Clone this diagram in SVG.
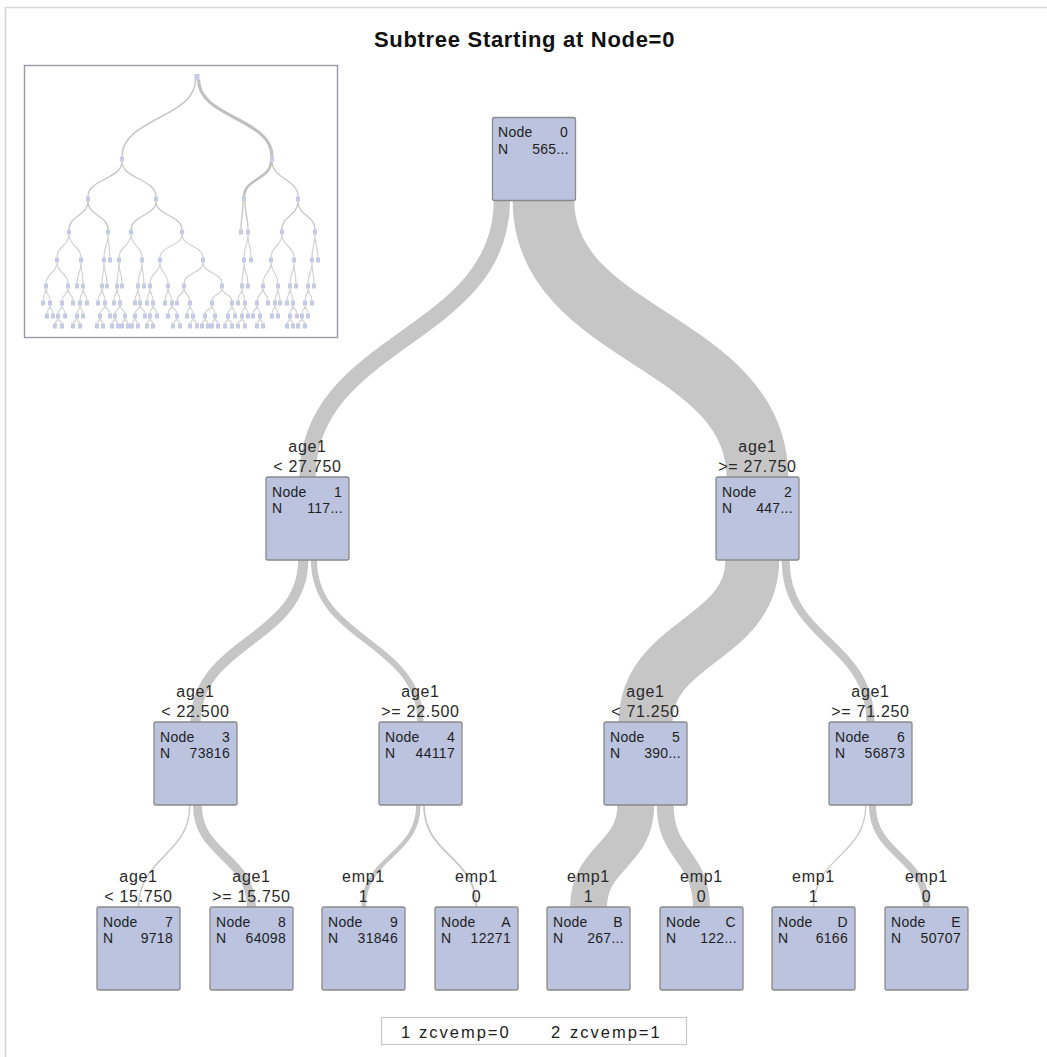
<svg xmlns="http://www.w3.org/2000/svg" width="1047" height="1057" viewBox="0 0 1047 1057">
<style>
.frame{stroke:#d6d6d6;stroke-width:1.6;fill:none}
.band{fill:none;stroke:#c6c6c6;stroke-linecap:butt}
.node rect{fill:#bbc3df;stroke:#8a8a8a;stroke-width:1.3}
.nt{font-family:"Liberation Sans",Arial,sans-serif;font-size:14px;fill:#1e1e1e;letter-spacing:0.3px}
.e{text-anchor:end}
.lb{font-family:"Liberation Sans",Arial,sans-serif;font-size:16px;fill:#2a2a2a;text-anchor:middle;letter-spacing:0.7px}
.title{font-family:"Liberation Sans",Arial,sans-serif;font-size:22px;font-weight:bold;fill:#111;text-anchor:middle;letter-spacing:0.7px}
.lg{font-family:"Liberation Sans",Arial,sans-serif;font-size:16.5px;fill:#222;letter-spacing:2px}
.mini-e{fill:none;stroke:#d2d2d2;stroke-width:1.2}
.mini-n{fill:#c5cae6}
</style>
<rect width="1047" height="1057" fill="#fff"/>
<path class="frame" d="M5.5,1057V7.5H1047"/>
<text class="title" x="524.5" y="47">Subtree Starting at Node=0</text>

<g id="overview">
<rect x="24.5" y="65.5" width="313" height="272" fill="#fff" stroke="#9a9aa6" stroke-width="1.4"/>
<path class="mini-e" style="stroke:#c8c8c8;stroke-width:1.6" d="M195.5,79.5C195.5,118 122,118 122,156.5"/>
<path class="mini-e" style="stroke:#c0c0c0;stroke-width:3.2" d="M198.5,79.5C198.5,118 272,118 272,156.5"/>
<path class="mini-e" style="stroke:#c8c8c8;stroke-width:1.4" d="M122,161.5C122,179 88,179 88,196.5M122,161.5C122,179 156,179 156,196.5M298,201.5C298,215.5 282,215.5 282,229.5M298,201.5C298,215.5 315,215.5 315,229.5M272,161.5C272,179 298,179 298,196.5"/>
<path class="mini-e" style="stroke:#c0c0c0;stroke-width:2.6" d="M271,161.5C271,179 244,179 244,196.5"/>
<path class="mini-e" style="stroke:#c8c8c8;stroke-width:1.4" d="M88,201.5C88,215.5 69,215.5 69,229.5M88,201.5C88,215.5 108,215.5 108,229.5M156,201.5C156,215.5 131,215.5 131,229.5M156,201.5C156,215.5 182,215.5 182,229.5M243,201.5C243,215.5 241,215.5 241,229.5M245,201.5C245,215.5 248,215.5 248,229.5"/>
<path class="mini-e" d="M69,234.5C69,246 57,246 57,257.5M69,234.5C69,246 81,246 81,257.5M108,234.5C108,246 104,246 104,257.5M108,234.5C108,246 110,246 110,257.5M131,234.5C131,246 119,246 119,257.5M131,234.5C131,246 142,246 142,257.5M182,234.5C182,246 160,246 160,257.5M182,234.5C182,246 203,246 203,257.5M248,234.5C248,246 244,246 244,257.5M248,234.5C248,246 251,246 251,257.5M282,234.5C282,246 271,246 271,257.5M282,234.5C282,246 294,246 294,257.5M315,234.5C315,246 312,246 312,257.5M315,234.5C315,246 318,246 318,257.5"/>
<path class="mini-e" d="M57,262.5C57,273 46,273 46,283.5M57,262.5C57,273 68,273 68,283.5M81,262.5C81,273 77,273 77,283.5M81,262.5C81,273 83,273 83,283.5M104,262.5C104,273 102,273 102,283.5M104,262.5C104,273 107,273 107,283.5M119,262.5C119,273 117,273 117,283.5M119,262.5C119,273 122,273 122,283.5M142,262.5C142,273 138,273 138,283.5M142,262.5C142,273 144,273 144,283.5M160,262.5C160,273 150,273 150,283.5M160,262.5C160,273 168,273 168,283.5M203,262.5C203,273 184,273 184,283.5M203,262.5C203,273 222,273 222,283.5M244,262.5C244,273 242,273 242,283.5M244,262.5C244,273 248,273 248,283.5M271,262.5C271,273 263,273 263,283.5M271,262.5C271,273 278,273 278,283.5M294,262.5C294,273 290,273 290,283.5M294,262.5C294,273 296,273 296,283.5M312,262.5C312,273 308,273 308,283.5M312,262.5C312,273 314,273 314,283.5"/>
<path class="mini-e" d="M46,288.5C46,294.5 43,294.5 43,300.5M46,288.5C46,294.5 50,294.5 50,300.5M68,288.5C68,294.5 62,294.5 62,300.5M68,288.5C68,294.5 73,294.5 73,300.5M83,288.5C83,294.5 80,294.5 80,300.5M83,288.5C83,294.5 87,294.5 87,300.5M102,288.5C102,294.5 98,294.5 98,300.5M102,288.5C102,294.5 105,294.5 105,300.5M117,288.5C117,294.5 114,294.5 114,300.5M117,288.5C117,294.5 120,294.5 120,300.5M138,288.5C138,294.5 135,294.5 135,300.5M138,288.5C138,294.5 140,294.5 140,300.5M150,288.5C150,294.5 147,294.5 147,300.5M150,288.5C150,294.5 153,294.5 153,300.5M168,288.5C168,294.5 165,294.5 165,300.5M168,288.5C168,294.5 172,294.5 172,300.5M184,288.5C184,294.5 177,294.5 177,300.5M184,288.5C184,294.5 190,294.5 190,300.5M222,288.5C222,294.5 212,294.5 212,300.5M222,288.5C222,294.5 232,294.5 232,300.5M242,288.5C242,294.5 238,294.5 238,300.5M242,288.5C242,294.5 245,294.5 245,300.5M263,288.5C263,294.5 257,294.5 257,300.5M263,288.5C263,294.5 268,294.5 268,300.5M278,288.5C278,294.5 275,294.5 275,300.5M278,288.5C278,294.5 280,294.5 280,300.5M290,288.5C290,294.5 287,294.5 287,300.5M290,288.5C290,294.5 293,294.5 293,300.5M308,288.5C308,294.5 305,294.5 305,300.5M308,288.5C308,294.5 312,294.5 312,300.5"/>
<path class="mini-e" d="M50,305.5C50,309.5 47,309.5 47,313.5M50,305.5C50,309.5 53,309.5 53,313.5M62,305.5C62,309.5 58,309.5 58,313.5M62,305.5C62,309.5 65,309.5 65,313.5M80,305.5C80,309.5 77,309.5 77,313.5M80,305.5C80,309.5 83,309.5 83,313.5M105,305.5C105,309.5 100,309.5 100,313.5M105,305.5C105,309.5 110,309.5 110,313.5M120,305.5C120,309.5 115,309.5 115,313.5M120,305.5C120,309.5 125,309.5 125,313.5M140,305.5C140,309.5 135,309.5 135,313.5M140,305.5C140,309.5 145,309.5 145,313.5M153,305.5C153,309.5 150,309.5 150,313.5M153,305.5C153,309.5 157,309.5 157,313.5M172,305.5C172,309.5 168,309.5 168,313.5M172,305.5C172,309.5 177,309.5 177,313.5M190,305.5C190,309.5 187,309.5 187,313.5M190,305.5C190,309.5 193,309.5 193,313.5M212,305.5C212,309.5 205,309.5 205,313.5M212,305.5C212,309.5 215,309.5 215,313.5M232,305.5C232,309.5 228,309.5 228,313.5M232,305.5C232,309.5 235,309.5 235,313.5M245,305.5C245,309.5 242,309.5 242,313.5M245,305.5C245,309.5 248,309.5 248,313.5M257,305.5C257,309.5 253,309.5 253,313.5M257,305.5C257,309.5 260,309.5 260,313.5M275,305.5C275,309.5 272,309.5 272,313.5M275,305.5C275,309.5 278,309.5 278,313.5M293,305.5C293,309.5 290,309.5 290,313.5M293,305.5C293,309.5 297,309.5 297,313.5M305,305.5C305,309.5 302,309.5 302,313.5M305,305.5C305,309.5 308,309.5 308,313.5"/>
<path class="mini-e" d="M58,318.5C58,321 55,321 55,323.5M58,318.5C58,321 62,321 62,323.5M77,318.5C77,321 73,321 73,323.5M77,318.5C77,321 80,321 80,323.5M100,318.5C100,321 97,321 97,323.5M100,318.5C100,321 103,321 103,323.5M115,318.5C115,321 112,321 112,323.5M115,318.5C115,321 118,321 118,323.5M125,318.5C125,321 122,321 122,323.5M125,318.5C125,321 128,321 128,323.5M135,318.5C135,321 132,321 132,323.5M135,318.5C135,321 138,321 138,323.5M150,318.5C150,321 147,321 147,323.5M150,318.5C150,321 153,321 153,323.5M177,318.5C177,321 173,321 173,323.5M177,318.5C177,321 180,321 180,323.5M193,318.5C193,321 190,321 190,323.5M193,318.5C193,321 197,321 197,323.5M205,318.5C205,321 202,321 202,323.5M205,318.5C205,321 208,321 208,323.5M215,318.5C215,321 212,321 212,323.5M215,318.5C215,321 218,321 218,323.5M228,318.5C228,321 225,321 225,323.5M228,318.5C228,321 232,321 232,323.5M242,318.5C242,321 238,321 238,323.5M242,318.5C242,321 245,321 245,323.5M260,318.5C260,321 257,321 257,323.5M260,318.5C260,321 263,321 263,323.5M290,318.5C290,321 287,321 287,323.5M290,318.5C290,321 293,321 293,323.5M302,318.5C302,321 298,321 298,323.5M302,318.5C302,321 305,321 305,323.5"/>
<path class="mini-n" d="M194.5,74h5v6h-5z
M120,156.5h4v5h-4zM270,156.5h4v5h-4z
M86,196.5h4v5h-4zM154,196.5h4v5h-4zM242,196.5h4v5h-4zM296,196.5h4v5h-4z
M67,229.5h4v5h-4zM106,229.5h4v5h-4zM129,229.5h4v5h-4zM180,229.5h4v5h-4zM239,229.5h4v5h-4zM246,229.5h4v5h-4zM280,229.5h4v5h-4zM313,229.5h4v5h-4z
M55,257.5h4v5h-4zM79,257.5h4v5h-4zM102,257.5h4v5h-4zM108,257.5h4v5h-4zM117,257.5h4v5h-4zM140,257.5h4v5h-4zM158,257.5h4v5h-4zM201,257.5h4v5h-4zM242,257.5h4v5h-4zM249,257.5h4v5h-4zM269,257.5h4v5h-4zM292,257.5h4v5h-4zM310,257.5h4v5h-4zM316,257.5h4v5h-4z
M44,283.5h4v5h-4zM66,283.5h4v5h-4zM75,283.5h4v5h-4zM81,283.5h4v5h-4zM100,283.5h4v5h-4zM105,283.5h4v5h-4zM115,283.5h4v5h-4zM120,283.5h4v5h-4zM136,283.5h4v5h-4zM142,283.5h4v5h-4zM148,283.5h4v5h-4zM166,283.5h4v5h-4zM182,283.5h4v5h-4zM220,283.5h4v5h-4zM240,283.5h4v5h-4zM246,283.5h4v5h-4zM261,283.5h4v5h-4zM276,283.5h4v5h-4zM288,283.5h4v5h-4zM294,283.5h4v5h-4zM306,283.5h4v5h-4zM312,283.5h4v5h-4z
M41,300.5h4v5h-4zM48,300.5h4v5h-4zM60,300.5h4v5h-4zM71,300.5h4v5h-4zM78,300.5h4v5h-4zM85,300.5h4v5h-4zM96,300.5h4v5h-4zM103,300.5h4v5h-4zM112,300.5h4v5h-4zM118,300.5h4v5h-4zM133,300.5h4v5h-4zM138,300.5h4v5h-4zM145,300.5h4v5h-4zM151,300.5h4v5h-4zM163,300.5h4v5h-4zM170,300.5h4v5h-4zM175,300.5h4v5h-4zM188,300.5h4v5h-4zM210,300.5h4v5h-4zM230,300.5h4v5h-4zM236,300.5h4v5h-4zM243,300.5h4v5h-4zM255,300.5h4v5h-4zM266,300.5h4v5h-4zM273,300.5h4v5h-4zM278,300.5h4v5h-4zM285,300.5h4v5h-4zM291,300.5h4v5h-4zM303,300.5h4v5h-4zM310,300.5h4v5h-4z
M45,313.5h4v5h-4zM51,313.5h4v5h-4zM56,313.5h4v5h-4zM63,313.5h4v5h-4zM75,313.5h4v5h-4zM81,313.5h4v5h-4zM98,313.5h4v5h-4zM108,313.5h4v5h-4zM113,313.5h4v5h-4zM123,313.5h4v5h-4zM133,313.5h4v5h-4zM143,313.5h4v5h-4zM148,313.5h4v5h-4zM155,313.5h4v5h-4zM166,313.5h4v5h-4zM175,313.5h4v5h-4zM185,313.5h4v5h-4zM191,313.5h4v5h-4zM203,313.5h4v5h-4zM213,313.5h4v5h-4zM226,313.5h4v5h-4zM233,313.5h4v5h-4zM240,313.5h4v5h-4zM246,313.5h4v5h-4zM251,313.5h4v5h-4zM258,313.5h4v5h-4zM270,313.5h4v5h-4zM276,313.5h4v5h-4zM288,313.5h4v5h-4zM295,313.5h4v5h-4zM300,313.5h4v5h-4zM306,313.5h4v5h-4z
M53,323.5h4v5h-4zM60,323.5h4v5h-4zM71,323.5h4v5h-4zM78,323.5h4v5h-4zM95,323.5h4v5h-4zM101,323.5h4v5h-4zM110,323.5h4v5h-4zM116,323.5h4v5h-4zM120,323.5h4v5h-4zM126,323.5h4v5h-4zM130,323.5h4v5h-4zM136,323.5h4v5h-4zM145,323.5h4v5h-4zM151,323.5h4v5h-4zM171,323.5h4v5h-4zM178,323.5h4v5h-4zM188,323.5h4v5h-4zM195,323.5h4v5h-4zM200,323.5h4v5h-4zM206,323.5h4v5h-4zM210,323.5h4v5h-4zM216,323.5h4v5h-4zM223,323.5h4v5h-4zM230,323.5h4v5h-4zM236,323.5h4v5h-4zM243,323.5h4v5h-4zM255,323.5h4v5h-4zM261,323.5h4v5h-4zM285,323.5h4v5h-4zM291,323.5h4v5h-4zM296,323.5h4v5h-4zM303,323.5h4v5h-4z"/>
</g>

<g id="connectors">
<path class="band" stroke-width="16.3" d="M501.9,200C501.9,338.5 307.5,338.5 307.5,478"/>
<path class="band" stroke-width="61.7" d="M543.4,200C543.4,338.5 757.5,338.5 757.5,478"/>
<path class="band" stroke-width="10.2" d="M303.2,560C303.2,641 195.5,641 195.5,723"/>
<path class="band" stroke-width="6.1" d="M313.9,560C313.9,641 420.5,641 420.5,723"/>
<path class="band" stroke-width="53.8" d="M752.3,560C752.3,641 645.5,641 645.5,723"/>
<path class="band" stroke-width="7.9" d="M785.6,560C785.6,641 870.5,641 870.5,723"/>
<path class="band" stroke-width="1.4" d="M189.8,805C189.8,856 138.5,856 138.5,908"/>
<path class="band" stroke-width="8.9" d="M197.4,805C197.4,856 251.5,856 251.5,908"/>
<path class="band" stroke-width="4.4" d="M418.4,805C418.4,856 363.5,856 363.5,908"/>
<path class="band" stroke-width="1.7" d="M423.9,805C423.9,856 476.5,856 476.5,908"/>
<path class="band" stroke-width="36.9" d="M635.8,805C635.8,856 588.5,856 588.5,908"/>
<path class="band" stroke-width="16.9" d="M665.2,805C665.2,856 701.5,856 701.5,908"/>
<path class="band" stroke-width="1.2" d="M865.8,805C865.8,856 813.5,856 813.5,908"/>
<path class="band" stroke-width="7" d="M872.4,805C872.4,856 926.5,856 926.5,908"/>
</g>

<g id="node-0" class="node"><rect x="492.5" y="117.5" width="83" height="83" rx="2"/><text class="nt" x="498" y="137">Node</text><text class="nt e" x="568" y="137">0</text><text class="nt" x="498" y="154">N</text><text class="nt e" x="569" y="154">565...</text></g>

<g id="node-1" class="node"><text class="lb" x="307.5" y="452">age1</text><text class="lb" x="307.5" y="472">&lt; 27.750</text><rect x="266" y="477" width="83" height="83" rx="2"/><text class="nt" x="272" y="497">Node</text><text class="nt e" x="342" y="497">1</text><text class="nt" x="272" y="513">N</text><text class="nt e" x="343" y="513">117...</text></g>

<g id="node-2" class="node"><text class="lb" x="757.5" y="452">age1</text><text class="lb" x="757.5" y="472">&gt;= 27.750</text><rect x="716" y="477" width="83" height="83" rx="2"/><text class="nt" x="722" y="497">Node</text><text class="nt e" x="792" y="497">2</text><text class="nt" x="722" y="513">N</text><text class="nt e" x="793" y="513">447...</text></g>

<g id="node-3" class="node"><text class="lb" x="195.5" y="697">age1</text><text class="lb" x="195.5" y="717">&lt; 22.500</text><rect x="154" y="722" width="83" height="83" rx="2"/><text class="nt" x="160" y="742">Node</text><text class="nt e" x="230" y="742">3</text><text class="nt" x="160" y="758">N</text><text class="nt e" x="230" y="758">73816</text></g>

<g id="node-4" class="node"><text class="lb" x="420.5" y="697">age1</text><text class="lb" x="420.5" y="717">&gt;= 22.500</text><rect x="379" y="722" width="83" height="83" rx="2"/><text class="nt" x="385" y="742">Node</text><text class="nt e" x="455" y="742">4</text><text class="nt" x="385" y="758">N</text><text class="nt e" x="455" y="758">44117</text></g>

<g id="node-5" class="node"><text class="lb" x="645.5" y="697">age1</text><text class="lb" x="645.5" y="717">&lt; 71.250</text><rect x="604" y="722" width="83" height="83" rx="2"/><text class="nt" x="610" y="742">Node</text><text class="nt e" x="680" y="742">5</text><text class="nt" x="610" y="758">N</text><text class="nt e" x="681" y="758">390...</text></g>

<g id="node-6" class="node"><text class="lb" x="870.5" y="697">age1</text><text class="lb" x="870.5" y="717">&gt;= 71.250</text><rect x="829" y="722" width="83" height="83" rx="2"/><text class="nt" x="835" y="742">Node</text><text class="nt e" x="905" y="742">6</text><text class="nt" x="835" y="758">N</text><text class="nt e" x="905" y="758">56873</text></g>

<g id="node-7" class="node"><text class="lb" x="138.5" y="882">age1</text><text class="lb" x="138.5" y="902">&lt; 15.750</text><rect x="97" y="907" width="83" height="83" rx="2"/><text class="nt" x="103" y="927">Node</text><text class="nt e" x="173" y="927">7</text><text class="nt" x="103" y="943">N</text><text class="nt e" x="173" y="943">9718</text></g>

<g id="node-8" class="node"><text class="lb" x="251.5" y="882">age1</text><text class="lb" x="251.5" y="902">&gt;= 15.750</text><rect x="210" y="907" width="83" height="83" rx="2"/><text class="nt" x="216" y="927">Node</text><text class="nt e" x="286" y="927">8</text><text class="nt" x="216" y="943">N</text><text class="nt e" x="286" y="943">64098</text></g>

<g id="node-9" class="node"><text class="lb" x="363.5" y="882">emp1</text><text class="lb" x="363.5" y="902">1</text><rect x="322" y="907" width="83" height="83" rx="2"/><text class="nt" x="328" y="927">Node</text><text class="nt e" x="398" y="927">9</text><text class="nt" x="328" y="943">N</text><text class="nt e" x="398" y="943">31846</text></g>

<g id="node-A" class="node"><text class="lb" x="476.5" y="882">emp1</text><text class="lb" x="476.5" y="902">0</text><rect x="435" y="907" width="83" height="83" rx="2"/><text class="nt" x="441" y="927">Node</text><text class="nt e" x="511" y="927">A</text><text class="nt" x="441" y="943">N</text><text class="nt e" x="511" y="943">12271</text></g>

<g id="node-B" class="node"><text class="lb" x="588.5" y="882">emp1</text><text class="lb" x="588.5" y="902">1</text><rect x="547" y="907" width="83" height="83" rx="2"/><text class="nt" x="553" y="927">Node</text><text class="nt e" x="623" y="927">B</text><text class="nt" x="553" y="943">N</text><text class="nt e" x="624" y="943">267...</text></g>

<g id="node-C" class="node"><text class="lb" x="701.5" y="882">emp1</text><text class="lb" x="701.5" y="902">0</text><rect x="660" y="907" width="83" height="83" rx="2"/><text class="nt" x="666" y="927">Node</text><text class="nt e" x="736" y="927">C</text><text class="nt" x="666" y="943">N</text><text class="nt e" x="737" y="943">122...</text></g>

<g id="node-D" class="node"><text class="lb" x="813.5" y="882">emp1</text><text class="lb" x="813.5" y="902">1</text><rect x="772" y="907" width="83" height="83" rx="2"/><text class="nt" x="778" y="927">Node</text><text class="nt e" x="848" y="927">D</text><text class="nt" x="778" y="943">N</text><text class="nt e" x="848" y="943">6166</text></g>

<g id="node-E" class="node"><text class="lb" x="926.5" y="882">emp1</text><text class="lb" x="926.5" y="902">0</text><rect x="885" y="907" width="83" height="83" rx="2"/><text class="nt" x="891" y="927">Node</text><text class="nt e" x="961" y="927">E</text><text class="nt" x="891" y="943">N</text><text class="nt e" x="961" y="943">50707</text></g>

<g id="legend">
<rect x="381.5" y="1017.5" width="305" height="27" fill="#fff" stroke="#c8c8c8" stroke-width="1.2"/>
<text class="lg" x="401" y="1038">1</text><text class="lg" x="419" y="1038">zcvemp=0</text>
<text class="lg" x="551" y="1038">2</text><text class="lg" x="570" y="1038">zcvemp=1</text>
</g>
</svg>
